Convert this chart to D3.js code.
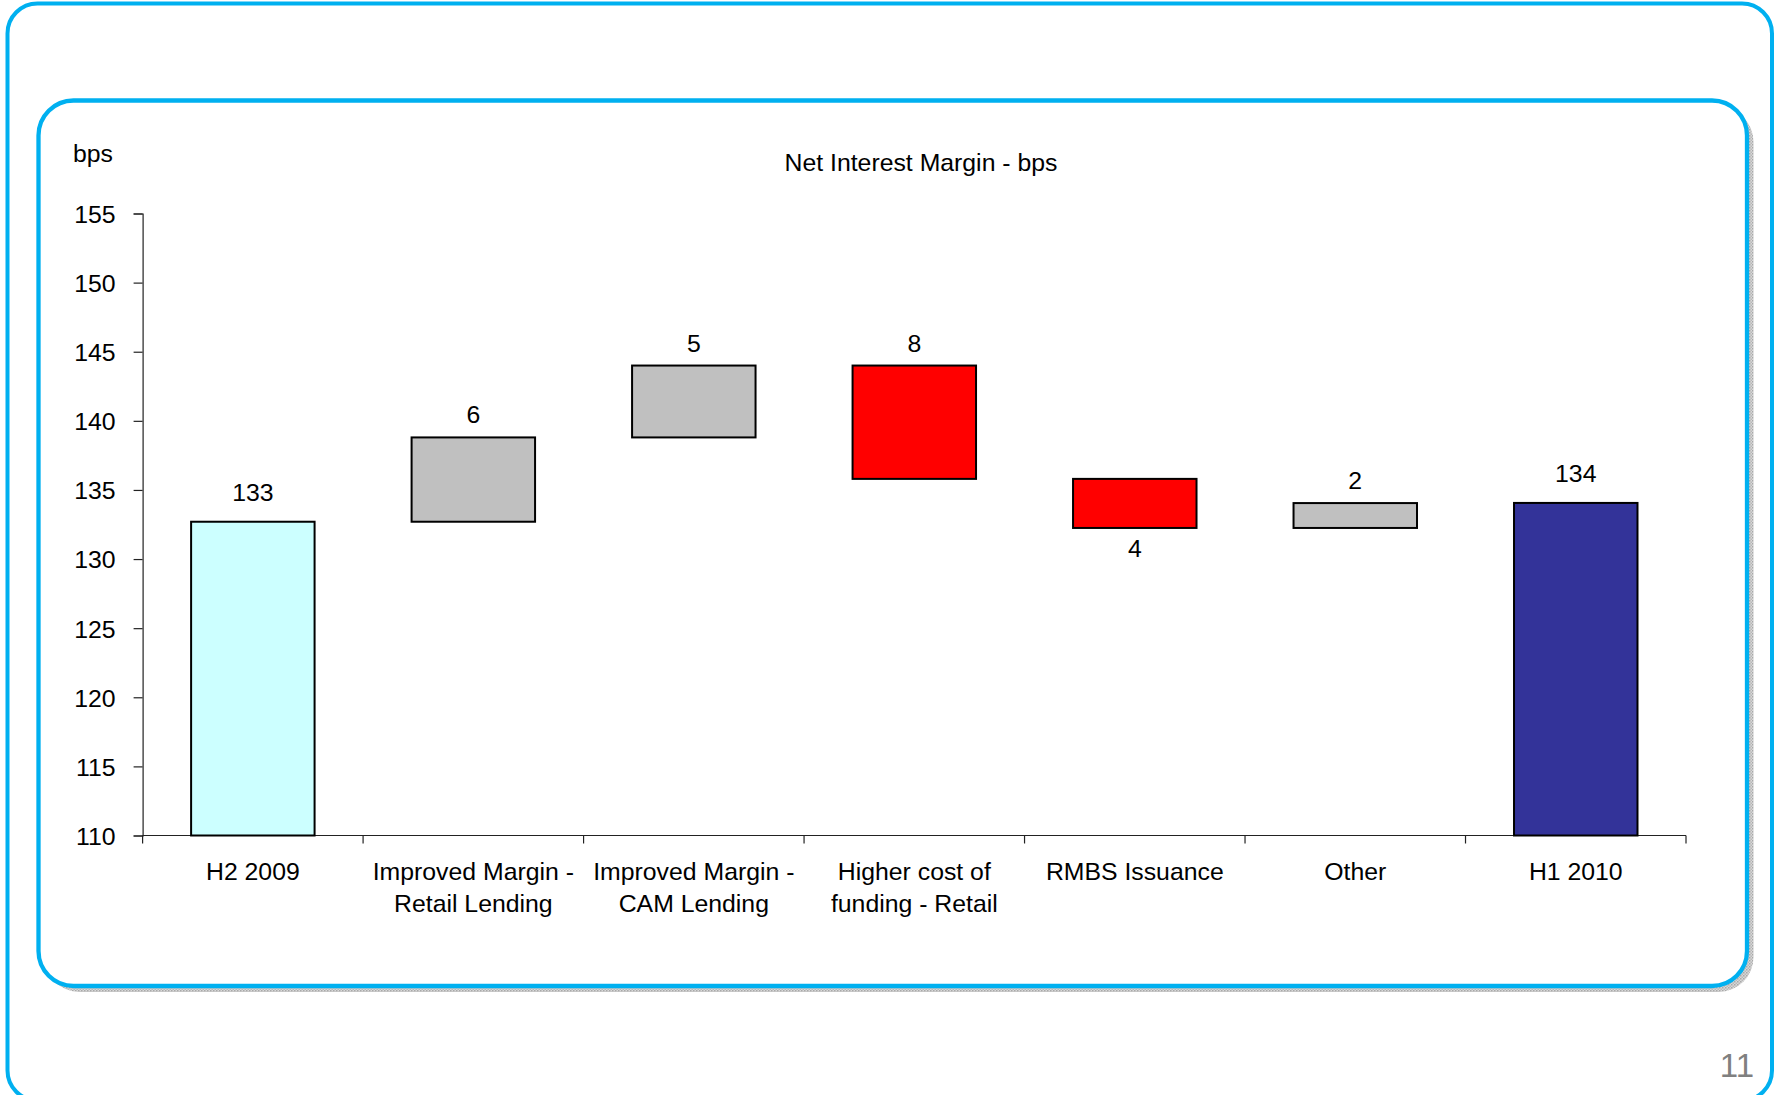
<!DOCTYPE html>
<html>
<head>
<meta charset="utf-8">
<script src="https://cdn.jsdelivr.net/npm/d3@7"></script>
<style>
  html, body { margin: 0; padding: 0; background: #fff; overflow: hidden; }
  svg { display: block; }
  text { font-family: "Liberation Sans", Arial, sans-serif; fill: #000; }
</style>
</head>
<body>
<svg id="chart" width="1774" height="1095"></svg>
<script>
// ---- data ----
const categories = [
  "H2 2009",
  "Improved Margin -\nRetail Lending",
  "Improved Margin -\nCAM Lending",
  "Higher cost of\nfunding - Retail",
  "RMBS Issuance",
  "Other",
  "H1 2010"
];
const startValue = 132.7;
const deltas = [6.1, 5.2, -8.2, -3.55, 1.8];
const endValue = 134.06;
const valueLabels = ["133", "6", "5", "8", "4", "2", "134"];
const yTicks = [110, 115, 120, 125, 130, 135, 140, 145, 150, 155];
const chartTitle = "Net Interest Margin - bps";
const yUnit = "bps";
const pageNumber = "11";

(function () {
// ---- layout ----
const svg = d3.select("#chart");
const plotLeft = 142.6, plotRight = 1686, plotTop = 213.5, plotBottom = 835.5;
const blue = "#00B0F0";
const fontSize = "24.8px";

// shadow pattern
const defs = svg.append("defs");
const pat = defs.append("pattern").attr("id", "hatch").attr("patternUnits", "userSpaceOnUse")
  .attr("width", 3).attr("height", 3);
pat.append("rect").attr("width", 3).attr("height", 3).attr("fill", "#d8d8d8");
pat.append("rect").attr("width", 1.5).attr("height", 1.5).attr("fill", "#a8a8a8");
pat.append("rect").attr("x", 1.5).attr("y", 1.5).attr("width", 1.5).attr("height", 1.5).attr("fill", "#b8b8b8");

// outer frame
svg.append("rect").attr("x", 7.5).attr("y", 3.5).attr("width", 1764.5).attr("height", 1097)
  .attr("rx", 30).attr("ry", 30).attr("fill", "#fff").attr("stroke", blue).attr("stroke-width", 4);

// inner panel shadow
svg.append("rect").attr("x", 44.5).attr("y", 107).attr("width", 1709).attr("height", 885)
  .attr("rx", 35).attr("ry", 35).attr("fill", "url(#hatch)");
// inner panel
svg.append("rect").attr("x", 38.5).attr("y", 100.5).attr("width", 1708.5).attr("height", 885.5)
  .attr("rx", 35).attr("ry", 35).attr("fill", "#fff").attr("stroke", blue).attr("stroke-width", 4.3);

// page number
svg.append("text").attr("x", 1754).attr("y", 1077).attr("text-anchor", "end")
  .style("font-size", "33px").style("fill", "#808080").text(pageNumber);

// ---- waterfall records ----
const records = [];
let cum = startValue;
records.push({ cat: categories[0], y0: 110, y1: startValue, type: "start" });
deltas.forEach((d, i) => {
  const a = cum, b = cum + d;
  records.push({ cat: categories[i + 1], y0: Math.min(a, b), y1: Math.max(a, b), type: d >= 0 ? "up" : "down" });
  cum = b;
});
records.push({ cat: categories[categories.length - 1], y0: 110, y1: endValue, type: "end" });
records.forEach((r, i) => r.label = valueLabels[i]);

const fills = { start: "#CCFFFF", up: "#C0C0C0", down: "#FF0000", end: "#333399" };

// ---- scales ----
const x = d3.scaleBand().domain(categories).range([plotLeft, plotRight]).paddingInner(0.44).paddingOuter(0.22);
const y = d3.scaleLinear().domain([110, 155]).range([plotBottom, plotTop]);

const g = svg.append("g");

// y axis
const yAxis = g.append("g").attr("transform", `translate(${plotLeft},0)`)
  .call(d3.axisLeft(y).tickValues(yTicks).tickSize(9).tickPadding(18).tickFormat(d3.format("d")));
yAxis.select(".domain").attr("stroke", "#222").attr("stroke-width", 1.2);
yAxis.selectAll(".tick line").attr("stroke", "#222").attr("stroke-width", 1.2);
yAxis.selectAll(".tick text").style("font-size", fontSize).attr("dy", "0.36em")
  .style("font-family", "'Liberation Sans', Arial, sans-serif").attr("fill", "#000");

// x axis (ticks at band boundaries)
const step = x.step();
const boundaries = d3.range(categories.length + 1).map(i => plotLeft + i * step);
const xAxisG = g.append("g");
xAxisG.append("line").attr("x1", plotLeft).attr("x2", plotRight).attr("y1", plotBottom).attr("y2", plotBottom)
  .attr("stroke", "#222").attr("stroke-width", 1.2);
xAxisG.selectAll("line.xt").data(boundaries).join("line").attr("class", "xt")
  .attr("x1", d => d).attr("x2", d => d).attr("y1", plotBottom).attr("y2", plotBottom + 8)
  .attr("stroke", "#222").attr("stroke-width", 1.2);

// category labels
const catLabels = xAxisG.selectAll("text.cat").data(categories).join("text").attr("class", "cat")
  .attr("text-anchor", "middle").style("font-size", fontSize)
  .attr("transform", d => `translate(${x(d) + x.bandwidth() / 2},${plotBottom + 44.5})`);
catLabels.each(function (d) {
  const t = d3.select(this);
  d.split("\n").forEach((line, i) => {
    t.append("tspan").attr("x", 0).attr("y", i * 32).text(line);
  });
});

// bars
g.selectAll("rect.bar").data(records).join("rect").attr("class", "bar")
  .attr("x", d => x(d.cat))
  .attr("width", x.bandwidth())
  .attr("y", d => y(d.y1))
  .attr("height", d => y(d.y0) - y(d.y1))
  .attr("fill", d => fills[d.type])
  .attr("stroke", "#000").attr("stroke-width", 2);

// value labels
const belowLabels = new Set(["RMBS Issuance"]);
g.selectAll("text.val").data(records).join("text").attr("class", "val")
  .attr("text-anchor", "middle").style("font-size", fontSize)
  .attr("x", d => x(d.cat) + x.bandwidth() / 2)
  .attr("y", d => {
    if (belowLabels.has(d.cat)) return y(d.y0) + 29;
    const off = (d.type === "start" || d.type === "end") ? 21 : 14;
    return y(d.y1) - off;
  })
  .text(d => d.label);

// y unit & title
svg.append("text").attr("x", 73).attr("y", 162).style("font-size", fontSize).text(yUnit);
svg.append("text").attr("x", 921).attr("y", 171).attr("text-anchor", "middle")
  .style("font-size", fontSize).text(chartTitle);
})();
</script>
</body>
</html>
